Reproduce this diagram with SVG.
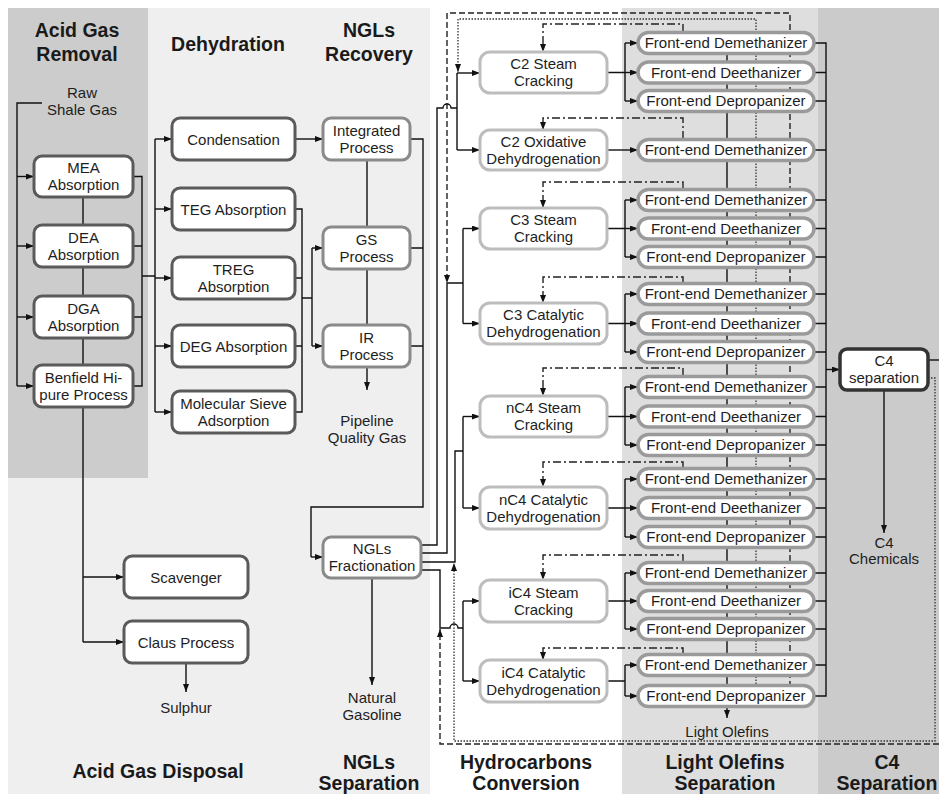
<svg xmlns="http://www.w3.org/2000/svg" width="939" height="794" viewBox="0 0 939 794">
<defs>
<style>
.t{font-family:"Liberation Sans",Arial,sans-serif;font-size:15px;fill:#1e1e1e;text-anchor:middle}
.h{font-family:"Liberation Sans",Arial,sans-serif;font-size:19.5px;font-weight:bold;fill:#1a1a1a;text-anchor:middle}
.n1{fill:#fff;stroke:#5a5a5a;stroke-width:3}
.n2{fill:#fff;stroke:#8a8a8a;stroke-width:3}
.n3{fill:#fff;stroke:#bdbdbd;stroke-width:3}
.pl{fill:#fff;stroke:#9a9a9a;stroke-width:3.5}
.n4{fill:#fff;stroke:#333;stroke-width:3.5}
.ln{fill:none;stroke:#111;stroke-width:1.4}
.ar{marker-end:url(#ah)}
.da{fill:none;stroke:#222;stroke-width:1.4;stroke-dasharray:6,3}
.do{fill:none;stroke:#333;stroke-width:1.3;stroke-dasharray:1.5,1.5}
.dd{fill:none;stroke:#222;stroke-width:1.4;stroke-dasharray:8,3,2,3}
</style>
<marker id="ah" markerWidth="8" markerHeight="6" refX="8" refY="3" orient="auto" markerUnits="userSpaceOnUse"><path d="M0,0 L8,3 L0,6 z" fill="#111"/></marker>
</defs>
<rect x="0" y="0" width="939" height="794" fill="#fff"/>
<g id="panels">
<rect x="8" y="8" width="422" height="786" fill="#efefef"/>
<rect x="8" y="8" width="140" height="470" fill="#cccccc"/>
<rect x="622" y="8" width="196" height="786" fill="#dedede"/>
<rect x="818" y="8" width="121" height="786" fill="#cbcbcb"/>
</g>
<g id="headers">
<text class="h" x="77" y="37">Acid Gas</text><text class="h" x="77" y="61">Removal</text>
<text class="h" x="228" y="51">Dehydration</text>
<text class="h" x="369" y="37">NGLs</text><text class="h" x="369" y="61">Recovery</text>
<text class="h" x="158" y="778">Acid Gas Disposal</text>
<text class="h" x="369" y="769">NGLs</text><text class="h" x="369" y="790">Separation</text>
<text class="h" x="526" y="769">Hydrocarbons</text><text class="h" x="526" y="790">Conversion</text>
<text class="h" x="725" y="769">Light Olefins</text><text class="h" x="725" y="790">Separation</text>
<text class="h" x="887" y="769">C4</text><text class="h" x="887" y="790">Separation</text>
</g>
<g id="labels">
<text class="t" x="82" y="98">Raw</text><text class="t" x="82" y="115">Shale Gas</text>
<text class="t" x="367" y="426">Pipeline</text><text class="t" x="367" y="443">Quality Gas</text>
<text class="t" x="186" y="713">Sulphur</text>
<text class="t" x="372" y="703">Natural</text><text class="t" x="372" y="720">Gasoline</text>
<text class="t" x="884" y="548">C4</text><text class="t" x="884" y="564">Chemicals</text>
<text class="t" x="727" y="737">Light Olefins</text>
</g>
<g id="connectors">
<path class="ln" d="M42,103 H17 V386"/>
<path class="ln ar" d="M17,176.5 H34"/><path class="ln ar" d="M17,246 H34"/><path class="ln ar" d="M17,317 H34"/><path class="ln ar" d="M17,386 H34"/>
<path class="ln" d="M83,197 V642"/>
<path class="ln ar" d="M83,577 H124"/><path class="ln ar" d="M83,642 H124"/>
<path class="ln ar" d="M186,663 V692"/>
<path class="ln" d="M133,176.5 H142 V386 H133 M133,246 H142 M133,317 H142 M142,276 H155"/>
<path class="ln" d="M155,139 V412"/>
<path class="ln ar" d="M155,139 H172"/><path class="ln ar" d="M155,209 H172"/><path class="ln ar" d="M155,278 H172"/><path class="ln ar" d="M155,346 H172"/><path class="ln ar" d="M155,412 H172"/>
<path class="ln ar" d="M295,139 H323"/>
<path class="ln" d="M295,209 H302 V412 H295 M295,278 H302 M295,346 H302 M302,298 H312 M312,248 V346"/>
<path class="ln ar" d="M312,248 H323"/><path class="ln ar" d="M312,346 H323"/>
<path class="ln ar" d="M367,160 V390"/>
<path class="ln" d="M410,139 H423 V507 H311 V557 M410,248 H423 M410,346 H423"/>
<path class="ln ar" d="M311,557 H323"/>
<path class="ln ar" d="M372,578 V685"/>
<path class="ln" d="M421,545 H437 V108 H443 A4,4 0 0 1 451,108 H457 M457,73 V150"/>
<path class="ln ar" d="M457,73 H480"/><path class="ln ar" d="M457,150 H480"/>
<path class="ln" d="M421,553 H447 V283 H463 M463,228.5 V323.5"/>
<path class="ln ar" d="M463,228.5 H480"/><path class="ln ar" d="M463,323.5 H480"/>
<path class="ln" d="M421,562 H455 V451 H463 M463,416.5 V508"/>
<path class="ln ar" d="M463,416.5 H480"/><path class="ln ar" d="M463,508 H480"/>
<path class="ln" d="M421,570 H440 V628 H450 A4,4 0 0 1 458,628 H463 M463,601 V681"/>
<path class="ln ar" d="M463,601 H480"/><path class="ln ar" d="M463,681 H480"/>
<path class="ln" d="M607,72.5 H625 M625,43 V101"/>
<path class="ln ar" d="M625,43 H638"/><path class="ln ar" d="M625,72.5 H638"/><path class="ln ar" d="M625,101 H638"/>
<path class="ln ar" d="M607,150 H638"/>
<path class="ln" d="M607,228.5 H625 M625,200 V257"/>
<path class="ln ar" d="M625,200 H638"/><path class="ln ar" d="M625,228.5 H638"/><path class="ln ar" d="M625,257 H638"/>
<path class="ln" d="M607,323.5 H625 M625,294 V352"/>
<path class="ln ar" d="M625,294 H638"/><path class="ln ar" d="M625,323.5 H638"/><path class="ln ar" d="M625,352 H638"/>
<path class="ln" d="M607,416.5 H625 M625,387 V445"/>
<path class="ln ar" d="M625,387 H638"/><path class="ln ar" d="M625,416.5 H638"/><path class="ln ar" d="M625,445 H638"/>
<path class="ln" d="M607,508 H625 M625,479 V537"/>
<path class="ln ar" d="M625,479 H638"/><path class="ln ar" d="M625,508 H638"/><path class="ln ar" d="M625,537 H638"/>
<path class="ln" d="M607,601 H625 M625,573 V629"/>
<path class="ln ar" d="M625,573 H638"/><path class="ln ar" d="M625,601 H638"/><path class="ln ar" d="M625,629 H638"/>
<path class="ln" d="M607,681 H625 M625,665 V696"/>
<path class="ln ar" d="M625,665 H638"/><path class="ln ar" d="M625,696 H638"/>
<path class="ln" d="M814,43 H826 V696 H814 M814,72.5 H826 M814,101 H826 M814,150 H826 M814,200 H826 M814,228.5 H826 M814,257 H826 M814,294 H826 M814,323.5 H826 M814,352 H826 M814,387 H826 M814,416.5 H826 M814,445 H826 M814,479 H826 M814,508 H826 M814,537 H826 M814,573 H826 M814,601 H826 M814,629 H826 M814,665 H826"/>
<path class="ln ar" d="M826,369.5 H840"/>
<path class="ln ar" d="M884,390 V533"/>
<path class="ln" d="M928,360 H939"/>
<path class="ln ar" d="M727,43 V718"/>
<path class="do ar" d="M756,696 V19 H458 V72"/>
<path class="da ar" d="M790,696 V13 H447 V283"/>
<path class="do ar" d="M928,378 H935 V741 H454 V563"/>
<path class="da ar" d="M939,744 H440 V629"/>
<path class="dd ar" d="M683,32 V24 H543 V52"/>
<path class="dd ar" d="M683,139 V118 H543 V130"/>
<path class="dd ar" d="M683,189 V182 H543 V208"/>
<path class="dd ar" d="M683,283 V277 H543 V303"/>
<path class="dd ar" d="M683,376 V368 H543 V396"/>
<path class="dd ar" d="M683,468 V462 H543 V487"/>
<path class="dd ar" d="M683,562 V555 H543 V580"/>
<path class="dd ar" d="M683,654 V648 H543 V660"/>
</g>
<g id="n-mea"><rect class="n1" x="34" y="156" width="99" height="41" rx="8"/><text class="t" x="83.5" y="173">MEA</text><text class="t" x="83.5" y="190">Absorption</text></g>
<g id="n-dea"><rect class="n1" x="34" y="225" width="99" height="42" rx="8"/><text class="t" x="83.5" y="242.5">DEA</text><text class="t" x="83.5" y="259.5">Absorption</text></g>
<g id="n-dga"><rect class="n1" x="34" y="296" width="99" height="42" rx="8"/><text class="t" x="83.5" y="313.5">DGA</text><text class="t" x="83.5" y="330.5">Absorption</text></g>
<g id="n-benfield"><rect class="n1" x="34" y="365" width="99" height="42" rx="8"/><text class="t" x="83.5" y="382.5">Benfield Hi-</text><text class="t" x="83.5" y="399.5">pure Process</text></g>
<g id="n-condensation"><rect class="n1" x="172" y="118" width="123" height="42" rx="8"/><text class="t" x="233.5" y="144.5">Condensation</text></g>
<g id="n-teg"><rect class="n1" x="172" y="188" width="123" height="42" rx="8"/><text class="t" x="233.5" y="214.5">TEG Absorption</text></g>
<g id="n-treg"><rect class="n1" x="172" y="257" width="123" height="42" rx="8"/><text class="t" x="233.5" y="274.5">TREG</text><text class="t" x="233.5" y="291.5">Absorption</text></g>
<g id="n-deg"><rect class="n1" x="172" y="325" width="123" height="42" rx="8"/><text class="t" x="233.5" y="351.5">DEG Absorption</text></g>
<g id="n-molsieve"><rect class="n1" x="172" y="391" width="123" height="42" rx="8"/><text class="t" x="233.5" y="408.5">Molecular Sieve</text><text class="t" x="233.5" y="425.5">Adsorption</text></g>
<g id="n-integrated"><rect class="n2" x="323" y="118" width="87" height="42" rx="8"/><text class="t" x="366.5" y="135.5">Integrated</text><text class="t" x="366.5" y="152.5">Process</text></g>
<g id="n-gs"><rect class="n2" x="323" y="227" width="87" height="42" rx="8"/><text class="t" x="366.5" y="244.5">GS</text><text class="t" x="366.5" y="261.5">Process</text></g>
<g id="n-ir"><rect class="n2" x="323" y="325" width="87" height="42" rx="8"/><text class="t" x="366.5" y="342.5">IR</text><text class="t" x="366.5" y="359.5">Process</text></g>
<g id="n-nglfrac"><rect class="n2" x="323" y="537" width="98" height="41" rx="8"/><text class="t" x="372" y="554">NGLs</text><text class="t" x="372" y="571">Fractionation</text></g>
<g id="n-scavenger"><rect class="n1" x="124" y="556" width="124" height="42" rx="8"/><text class="t" x="186" y="582.5">Scavenger</text></g>
<g id="n-claus"><rect class="n1" x="124" y="621" width="124" height="42" rx="8"/><text class="t" x="186" y="647.5">Claus Process</text></g>
<g id="n-c2sc"><rect class="n3" x="480" y="52" width="127" height="41" rx="10"/><text class="t" x="543.5" y="69">C2 Steam</text><text class="t" x="543.5" y="86">Cracking</text></g>
<g id="n-c2od"><rect class="n3" x="480" y="130" width="127" height="40" rx="10"/><text class="t" x="543.5" y="146.5">C2 Oxidative</text><text class="t" x="543.5" y="163.5">Dehydrogenation</text></g>
<g id="n-c3sc"><rect class="n3" x="480" y="208" width="127" height="41" rx="10"/><text class="t" x="543.5" y="225">C3 Steam</text><text class="t" x="543.5" y="242">Cracking</text></g>
<g id="n-c3cd"><rect class="n3" x="480" y="303" width="127" height="41" rx="10"/><text class="t" x="543.5" y="320">C3 Catalytic</text><text class="t" x="543.5" y="337">Dehydrogenation</text></g>
<g id="n-nc4sc"><rect class="n3" x="480" y="396" width="127" height="41" rx="10"/><text class="t" x="543.5" y="413">nC4 Steam</text><text class="t" x="543.5" y="430">Cracking</text></g>
<g id="n-nc4cd"><rect class="n3" x="480" y="487" width="127" height="42" rx="10"/><text class="t" x="543.5" y="504.5">nC4 Catalytic</text><text class="t" x="543.5" y="521.5">Dehydrogenation</text></g>
<g id="n-ic4sc"><rect class="n3" x="480" y="580" width="127" height="42" rx="10"/><text class="t" x="543.5" y="597.5">iC4 Steam</text><text class="t" x="543.5" y="614.5">Cracking</text></g>
<g id="n-ic4cd"><rect class="n3" x="480" y="660" width="127" height="42" rx="10"/><text class="t" x="543.5" y="677.5">iC4 Catalytic</text><text class="t" x="543.5" y="694.5">Dehydrogenation</text></g>
<g id="p1"><rect class="pl" x="638" y="32.5" width="176" height="21" rx="10.5"/><text class="t" x="726" y="48">Front-end Demethanizer</text></g>
<g id="p2"><rect class="pl" x="638" y="62" width="176" height="21" rx="10.5"/><text class="t" x="726" y="77.5">Front-end Deethanizer</text></g>
<g id="p3"><rect class="pl" x="638" y="90.5" width="176" height="21" rx="10.5"/><text class="t" x="726" y="106">Front-end Depropanizer</text></g>
<g id="p4"><rect class="pl" x="638" y="139.5" width="176" height="21" rx="10.5"/><text class="t" x="726" y="155">Front-end Demethanizer</text></g>
<g id="p5"><rect class="pl" x="638" y="189.5" width="176" height="21" rx="10.5"/><text class="t" x="726" y="205">Front-end Demethanizer</text></g>
<g id="p6"><rect class="pl" x="638" y="218" width="176" height="21" rx="10.5"/><text class="t" x="726" y="233.5">Front-end Deethanizer</text></g>
<g id="p7"><rect class="pl" x="638" y="246.5" width="176" height="21" rx="10.5"/><text class="t" x="726" y="262">Front-end Depropanizer</text></g>
<g id="p8"><rect class="pl" x="638" y="283.5" width="176" height="21" rx="10.5"/><text class="t" x="726" y="299">Front-end Demethanizer</text></g>
<g id="p9"><rect class="pl" x="638" y="313" width="176" height="21" rx="10.5"/><text class="t" x="726" y="328.5">Front-end Deethanizer</text></g>
<g id="p10"><rect class="pl" x="638" y="341.5" width="176" height="21" rx="10.5"/><text class="t" x="726" y="357">Front-end Depropanizer</text></g>
<g id="p11"><rect class="pl" x="638" y="376.5" width="176" height="21" rx="10.5"/><text class="t" x="726" y="392">Front-end Demethanizer</text></g>
<g id="p12"><rect class="pl" x="638" y="406" width="176" height="21" rx="10.5"/><text class="t" x="726" y="421.5">Front-end Deethanizer</text></g>
<g id="p13"><rect class="pl" x="638" y="434.5" width="176" height="21" rx="10.5"/><text class="t" x="726" y="450">Front-end Depropanizer</text></g>
<g id="p14"><rect class="pl" x="638" y="468.5" width="176" height="21" rx="10.5"/><text class="t" x="726" y="484">Front-end Demethanizer</text></g>
<g id="p15"><rect class="pl" x="638" y="497.5" width="176" height="21" rx="10.5"/><text class="t" x="726" y="513">Front-end Deethanizer</text></g>
<g id="p16"><rect class="pl" x="638" y="526.5" width="176" height="21" rx="10.5"/><text class="t" x="726" y="542">Front-end Depropanizer</text></g>
<g id="p17"><rect class="pl" x="638" y="562.5" width="176" height="21" rx="10.5"/><text class="t" x="726" y="578">Front-end Demethanizer</text></g>
<g id="p18"><rect class="pl" x="638" y="590.5" width="176" height="21" rx="10.5"/><text class="t" x="726" y="606">Front-end Deethanizer</text></g>
<g id="p19"><rect class="pl" x="638" y="618.5" width="176" height="21" rx="10.5"/><text class="t" x="726" y="634">Front-end Depropanizer</text></g>
<g id="p20"><rect class="pl" x="638" y="654.5" width="176" height="21" rx="10.5"/><text class="t" x="726" y="670">Front-end Demethanizer</text></g>
<g id="p21"><rect class="pl" x="638" y="685.5" width="176" height="21" rx="10.5"/><text class="t" x="726" y="701">Front-end Depropanizer</text></g>
<g id="n-c4sep"><rect class="n4" x="840" y="349" width="88" height="41" rx="7"/><text class="t" x="884" y="366">C4</text><text class="t" x="884" y="383">separation</text></g>
</svg>
